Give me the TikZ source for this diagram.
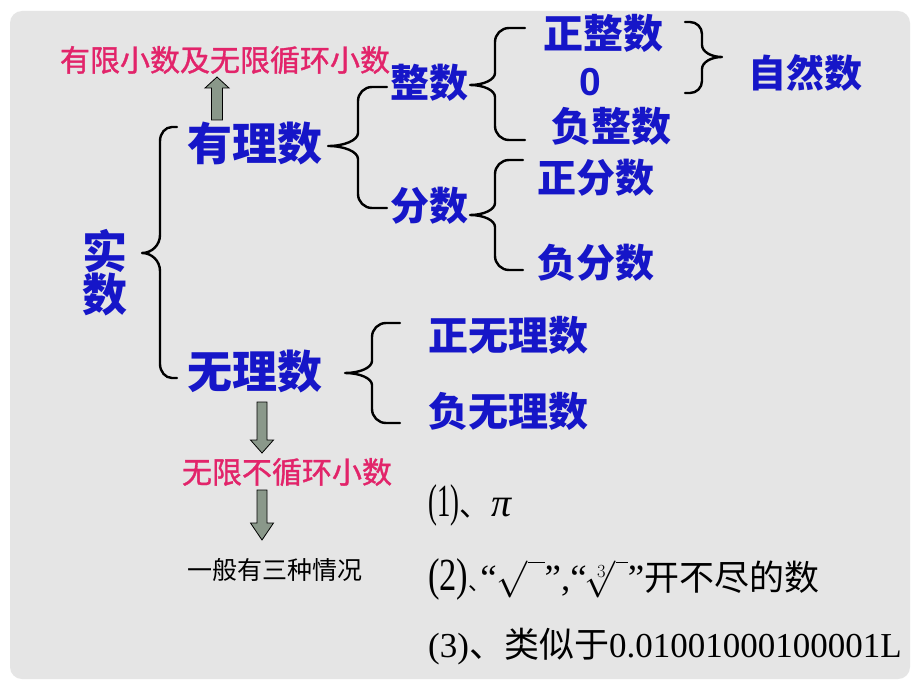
\RequirePackage{fix-cm}
\documentclass[tikz,border=0pt]{standalone}
\usepackage{fontspec}
\usepackage{graphicx}
\setmainfont{Liberation Serif}
\newfontfamily\cjk{Noto Sans CJK SC}
\newfontfamily\cjkfb{Noto Sans CJK SC}[FakeBold=1.2]
\newfontfamily\arialf{Liberation Sans}
\newcommand\setfs[1]{\fontsize{#1}{#1}\selectfont}
\definecolor{bgc}{RGB}{229,229,229}
\definecolor{tblue}{RGB}{22,22,200}
\definecolor{tred}{RGB}{226,36,106}
\definecolor{afill}{RGB}{138,152,138}
% brace: xe xv xt yt ym yb rh rv s
\newcommand\MyBrace[9]{%
  \draw[bracestyle] (#1,#4) -- ({#2+(#7)},#4)
    .. controls ({#2+0.448*(#7)},#4) and (#2,{#4+0.448*(#8)}) .. (#2,{#4+(#8)})
    -- (#2,{#5-(#9)})
    .. controls (#2,{#5-0.448*(#9)}) and ({#3+0.552*(#2-#3)},#5) .. (#3,#5)
    .. controls ({#3+0.552*(#2-#3)},#5) and (#2,{#5+0.448*(#9)}) .. (#2,{#5+(#9)})
    -- (#2,{#6-(#8)})
    .. controls (#2,{#6-0.448*(#8)}) and ({#2+0.448*(#7)},#6) .. ({#2+(#7)},#6)
    -- (#1,#6);}
\tikzset{
  bracestyle/.style={line width=2.4pt, line cap=round, line join=round, black},
  garrow/.style={fill=afill, draw=black, line width=0.8pt, line join=miter},
  bluet/.style={text=tblue, inner sep=0pt, font=\cjk\bfseries},
  redt/.style={text=tred, inner sep=0pt, font=\cjkfb\setfs{30pt}},
  blackt/.style={text=black, inner sep=0pt},
  pics/downarr/.style 2 args={code={\draw[garrow] (-5,0) -- (5,0) -- (5,#1) -- (11.5,#1) -- (0,#2) -- (-11.5,#1) -- (-5,#1) -- cycle;}},
  pics/uparr/.style 2 args={code={\draw[garrow] (-5.5,0) -- (5.5,0) -- (5.5,-#1) -- (12,-#1) -- (0,-#2) -- (-12,-#1) -- (-5.5,-#1) -- cycle;}},
}
\begin{document}
\begin{tikzpicture}[x=1pt,y=-1pt]
\fill[white] (0,0) rectangle (920,690);
\useasboundingbox (0,0) rectangle (920,690);
\fill[bgc, rounded corners=12pt] (10,11) rectangle (910,679);

% texts
\node[redt] (fin) at (225,60) {有限小数及无限循环小数};
\node[bluet, font=\cjk\bfseries\setfs{45pt}, align=center] (shishu) at (105,273) {实\\[-2pt]数};
\node[bluet, font=\cjk\bfseries\setfs{45pt}] (youli) at (255,144) {有理数};
\node[bluet, font=\cjk\bfseries\setfs{45pt}] (wuli) at (255,372) {无理数};
\node[bluet, font=\cjk\bfseries\setfs{39pt}] (zheng) at (429,83) {整数};
\node[bluet, font=\cjk\bfseries\setfs{39pt}] (fen) at (429,206) {分数};
\node[bluet, font=\cjk\bfseries\setfs{40pt}] (zz) at (603,33) {正整数};
\node[bluet, font=\arialf\bfseries\setfs{39pt}] (zero) at (590,82) {0};
\node[bluet, font=\cjk\bfseries\setfs{40pt}] (fz) at (611,126) {负整数};
\node[bluet, font=\cjk\bfseries\setfs{38pt}] (ziran) at (805,73) {自然数};
\node[bluet, font=\cjk\bfseries\setfs{39pt}] (zf) at (596,178) {正分数};
\node[bluet, font=\cjk\bfseries\setfs{39pt}] (ff) at (596,263) {负分数};
\node[bluet, font=\cjk\bfseries\setfs{40pt}] (zw) at (508,335) {正无理数};
\node[bluet, font=\cjk\bfseries\setfs{40pt}] (fw) at (508,411) {负无理数};
\node[redt] (wx) at (287,472) {无限不循环小数};
\node[blackt, font=\cjk\setfs{25pt}] (three) at (275,570) {一般有三种情况};

\node[blackt, anchor=base west] (r1) at (428,516)
  {\scalebox{0.58}[1]{\setfs{46pt}(1)}{\cjk\setfs{30pt}、}\hspace{2pt}{\itshape\setfs{40pt}π}};
\node[blackt, anchor=base west] (r2) at (428,590)
  {\scalebox{0.75}[1]{\setfs{46pt}(2)}\makebox[12pt][l]{\cjk\setfs{22pt}、}{\setfs{37pt}“$\sqrt{\rule[-6pt]{0pt}{30pt}\hspace{17pt}}$”,“$\sqrt[3]{\rule[-6pt]{0pt}{30pt}\hspace{12pt}}$”}{\cjk\setfs{35pt}开不尽的数}};
\node[blackt, anchor=base west] (r3) at (428,657)
  {{\setfs{35pt}(3)}{\cjk\setfs{35pt}、类似于}{\setfs{35pt}0.01001000100001L}};

% braces
\MyBrace{177}{160}{142}{127}{253}{378}{12}{14}{18}
\MyBrace{387}{358}{328}{87}{146}{208}{14}{14}{13}
\MyBrace{525}{495}{470}{28}{85}{140}{14}{14}{12}
\MyBrace{523}{495}{470}{160}{215}{270}{14}{14}{12}
\MyBrace{400}{372}{345}{323}{373}{423}{14}{14}{12}
\MyBrace{685}{702}{722}{22}{57}{93}{-12}{12}{12}

% block arrows
\pic (aup) at (217,120) {uparr={32}{43}};
\pic (adn1) at (262,402) {downarr={38}{51}};
\pic (adn2) at (262,490) {downarr={33}{50}};
\end{tikzpicture}
\end{document}
